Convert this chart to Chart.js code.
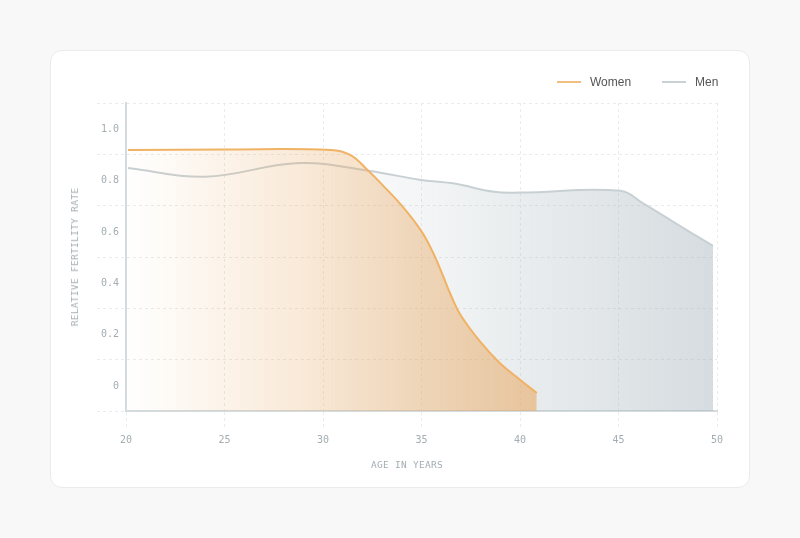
<!DOCTYPE html>
<html><head><meta charset="utf-8">
<script src="https://cdn.jsdelivr.net/npm/chart.js@4.4.1/dist/chart.umd.min.js"></script>
<style>
html,body{margin:0;padding:0;background:#f8f8f8;width:800px;height:538px;overflow:hidden;font-family:"Liberation Sans",Arial,sans-serif}
.card{position:absolute;left:50px;top:50px;width:698px;height:436px;background:#fff;border:1px solid #ebebeb;border-radius:12px}
#c{position:absolute;left:0;top:0}
.sw{position:absolute;height:2px;width:24px;top:81px}
.lt{position:absolute;top:75px;line-height:14px;font-size:12px;color:#555}
.ttl{position:absolute;font-family:"DejaVu Sans Mono",monospace;font-size:9.5px;color:#a3adb1;letter-spacing:0.3px;white-space:nowrap;line-height:12px}
</style></head>
<body>
<div class="card"></div>
<canvas id="c" width="800" height="538"></canvas>
<div class="sw" style="left:557px;background:#f3bf7e"></div><div class="lt" style="left:590px">Women</div>
<div class="sw" style="left:662px;background:#c9d3d6"></div><div class="lt" style="left:695px">Men</div>
<div class="ttl" style="left:0;width:814px;text-align:center;top:459px">AGE IN YEARS</div>
<div class="ttl" style="left:75px;top:257px;transform:translate(-50%,-50%) rotate(-90deg)">RELATIVE FERTILITY RATE</div>
<script>
const womenAges = [20.1, 25, 30.4, 31.4, 32.3, 33, 34, 35, 35.6, 36.1, 36.5, 37, 38, 39, 40, 40.85];
const womenRate = [0.917, 0.919, 0.917, 0.897, 0.836, 0.782, 0.700, 0.600, 0.515, 0.425, 0.350, 0.272, 0.168, 0.085, 0.022, -0.030];
const menAges = [20.1, 24.0, 28.8, 32.3, 34.9, 36.6, 38.7, 40.0, 45.1, 46.25, 47.8, 49.8];
const menRate = [0.847, 0.813, 0.866, 0.836, 0.801, 0.787, 0.754, 0.751, 0.758, 0.709, 0.636, 0.543];
const xTickValues = [20, 25, 30, 35, 40, 45, 50];
const yGridValues = [-0.1, 0.1, 0.3, 0.5, 0.7, 0.9, 1.1];
const yTickLabels = ['', '0', '0.2', '0.4', '0.6', '0.8', '1.0'];

function hGrad(c, fromAge, toAge, rgb, a0, a1) {
  const chart = c.chart;
  if (!chart.chartArea) return 'rgba(' + rgb + ',0.2)';
  const xs = chart.scales.x;
  const g = chart.ctx.createLinearGradient(xs.getPixelForValue(fromAge), 0, xs.getPixelForValue(toAge), 0);
  g.addColorStop(0, 'rgba(' + rgb + ',' + a0 + ')');
  g.addColorStop(1, 'rgba(' + rgb + ',' + a1 + ')');
  return g;
}

const tickFont = {family: 'DejaVu Sans Mono', size: 10};
new Chart(document.getElementById('c'), {
  type: 'line',
  data: {
    datasets: [
      {
        label: 'Women',
        data: womenAges.map((a, i) => ({x: a, y: womenRate[i]})),
        borderColor: '#f0b264', borderWidth: 2, pointRadius: 0,
        tension: 0.4, fill: 'start',
        backgroundColor: c => hGrad(c, 20, 40.9, '232,168,98', 0, 0.58)
      },
      {
        label: 'Men',
        data: menAges.map((a, i) => ({x: a, y: menRate[i]})),
        borderColor: '#c8d0d4', borderWidth: 2, pointRadius: 0,
        tension: 0.4, fill: 'start',
        backgroundColor: c => hGrad(c, 29, 49.8, '160,175,182', 0, 0.43)
      }
    ]
  },
  options: {
    responsive: false, animation: false, devicePixelRatio: 1,
    layout: {padding: {left: 86, right: 83, top: 103, bottom: 67}},
    plugins: {legend: {display: false}, tooltip: {enabled: false}},
    scales: {
      x: {
        type: 'linear', min: 20, max: 50,
        afterBuildTicks: s => { s.ticks = xTickValues.map(v => ({value: v})); },
        afterFit: s => { s.height = 60; },
        grid: {color: '#e9ebec', lineWidth: 1, tickLength: 19, tickColor: '#e9ebec', tickBorderDash: [3, 3]},
        border: {display: true, color: '#d3dbde', width: 2, dash: [3, 3]},
        ticks: {font: tickFont, color: '#a3adb1', padding: 4, maxRotation: 0}
      },
      y: {
        type: 'linear', min: -0.1, max: 1.1,
        afterBuildTicks: s => { s.ticks = yGridValues.map(v => ({value: v})); },
        afterFit: s => { s.width = 40; },
        grid: {color: '#e9ebec', lineWidth: 1, tickLength: 29, tickColor: '#e9ebec', tickBorderDash: [3, 3]},
        border: {display: true, color: '#d3dbde', width: 2, dash: [3, 3]},
        ticks: {font: tickFont, color: '#a3adb1', padding: -22, labelOffset: 26.5,
          callback: (v, i) => yTickLabels[i]}
      }
    }
  }
});
</script>
</body></html>
